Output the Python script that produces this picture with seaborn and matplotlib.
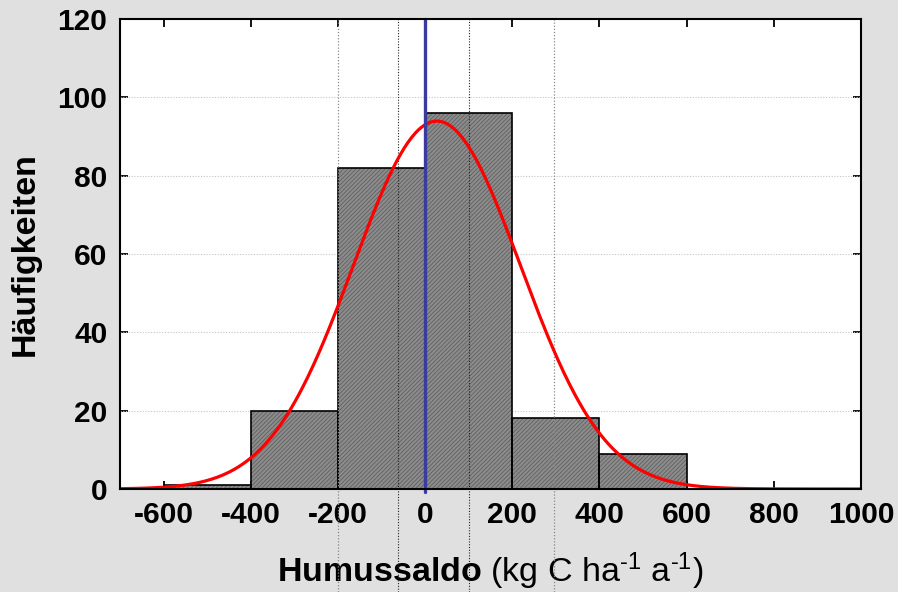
import numpy as np
import pandas as pd
import matplotlib
matplotlib.use("Agg")
import matplotlib.pyplot as plt
import seaborn as sns

# ---- data ----
bin_edges = [-600, -400, -200, 0, 200, 400, 600]
bin_counts = [1, 20, 82, 96, 18, 9]
fit_mean = 27.0      # fitted normal curve (mean)
fit_std = 192.0      # fitted normal curve (std)
x_ticks = [-600, -400, -200, 0, 200, 400, 600, 800, 1000]
y_ticks = [0, 20, 40, 60, 80, 100, 120]
marker_lines_dark = [-63, 100]
marker_lines_light = [-200, 296]
zero_line = 0

sns.set_theme(style="white")
plt.rcParams['font.family'] = ['Liberation Sans', 'DejaVu Sans']
plt.rcParams['axes.unicode_minus'] = False
plt.rcParams['hatch.linewidth'] = 0.6
plt.rcParams['mathtext.fontset'] = 'custom'
plt.rcParams['mathtext.rm'] = 'Liberation Sans'
plt.rcParams['mathtext.it'] = 'Liberation Sans'
plt.rcParams['mathtext.bf'] = 'Liberation Sans:bold'
plt.rcParams['text.color'] = 'black'
plt.rcParams['axes.labelcolor'] = 'black'

fig = plt.figure(figsize=(8.98, 5.92), dpi=100, facecolor='#e0e0e0')
ax = fig.add_axes([0.1336, 0.174, 0.8252, 0.794])
ax.set_facecolor('white')

centers = [(a + b) / 2 for a, b in zip(bin_edges[:-1], bin_edges[1:])]
df = pd.DataFrame({'x': centers, 'n': bin_counts})

# hatched fill
sns.histplot(data=df, x='x', weights='n', bins=bin_edges, ax=ax,
             color='#8a8a8a', alpha=1, linewidth=0, zorder=2)
for p in ax.patches:
    p.set_hatch('////////')
    p.set_facecolor('#8c8c8c')
    p.set_edgecolor('#606060')
    p.set_linewidth(0)
# outline
sns.histplot(data=df, x='x', weights='n', bins=bin_edges, ax=ax, fill=False,
             color='black', edgecolor='black', linewidth=1.2, zorder=3)

# fitted normal curve
xs = np.linspace(-700, 1000, 400)
n_total = sum(bin_counts)
bw = bin_edges[1] - bin_edges[0]
ys = n_total * bw / (fit_std * np.sqrt(2 * np.pi)) * np.exp(-0.5 * ((xs - fit_mean) / fit_std) ** 2)
sns.lineplot(x=xs, y=ys, ax=ax, color='#ff0000', linewidth=2.3, zorder=5)

# grid
for yv in y_ticks[1:-1]:
    ax.axhline(yv, color='#c4c4c4', linestyle=(0, (1, 1.5)), linewidth=0.8, zorder=1)

ext = -(592 - 489) / 470.0
for xv in marker_lines_dark:
    ax.axvline(xv, ymin=ext, ymax=1, color='#222222', linestyle=(0, (1, 1.5)),
               linewidth=0.8, zorder=4, clip_on=False)
for xv in marker_lines_light:
    ax.axvline(xv, ymin=ext, ymax=1, color='#888888', linestyle=(0, (1, 1.5)),
               linewidth=0.9, zorder=4, clip_on=False)
ax.axvline(zero_line, ymin=-0.006, ymax=1, color='#3a3aa0', linewidth=2.4, zorder=6, clip_on=False)

ax.set_xlim(-700, 1000)
ax.set_ylim(0, 120)
ax.set_xticks(x_ticks)
ax.set_yticks(y_ticks)
ax.set_xticklabels([str(v) for v in x_ticks], fontsize=21.5, fontweight='bold')
ax.set_yticklabels([str(v) for v in y_ticks], fontsize=21.5, fontweight='bold')
ax.tick_params(axis='both', direction='in', length=6, width=1.3, top=True, right=True,
               bottom=True, left=True, pad=9, colors='black')
for s in ax.spines.values():
    s.set_visible(True)
    s.set_color('black')
    s.set_linewidth(1.5)
    s.set_zorder(7)

ax.set_ylabel('Häufigkeiten', fontsize=24.5, fontweight='bold', labelpad=12, color='black')
ax.set_xlabel('$\\bf{Humussaldo}$ (kg C ha$^{\u20101}$ a$^{\u20101}$)', fontsize=24.5,
              labelpad=15, color='black')

fig.savefig('out.png', dpi=100, facecolor=fig.get_facecolor())
